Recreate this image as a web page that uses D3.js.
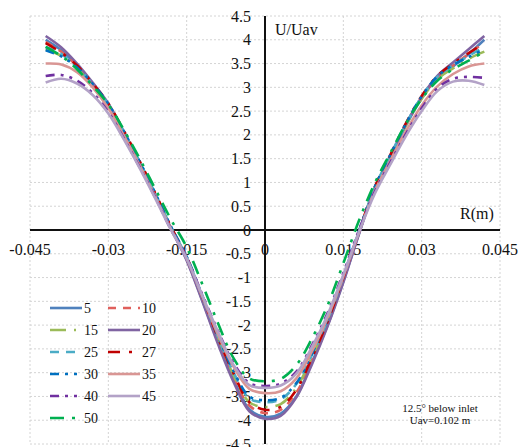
<!DOCTYPE html>
<html>
<head>
<meta charset="utf-8">
<script src="https://cdn.jsdelivr.net/npm/d3@7"></script>
<style>
  body { margin: 0; background: #fff; }
</style>
</head>
<body>
<script>
// radial positions (m)
var radius = [-0.042, -0.039, -0.036, -0.033, -0.030, -0.027, -0.024, -0.021, -0.018, -0.015, -0.012, -0.009, -0.006, -0.003, 0,
              0.003, 0.006, 0.009, 0.012, 0.015, 0.018, 0.021, 0.024, 0.027, 0.030, 0.033, 0.036, 0.039, 0.042];

// U/Uav per series
var s5  = [4.00, 3.78, 3.45, 3.06, 2.63, 2.03, 1.40, 0.73, 0.03, -0.62, -1.48, -2.36, -3.15, -3.77, -3.93, -3.86, -3.50, -2.78, -2.00, -1.08, -0.08, 0.86, 1.53, 2.20, 2.77, 3.20, 3.44, 3.70, 4.00];
var s10 = [3.95, 3.75, 3.45, 3.07, 2.64, 2.05, 1.42, 0.74, 0.05, -0.60, -1.45, -2.32, -3.10, -3.69, -3.85, -3.78, -3.42, -2.74, -1.96, -1.04, -0.05, 0.88, 1.55, 2.22, 2.78, 3.20, 3.46, 3.70, 3.95];
var s15 = [3.80, 3.66, 3.40, 3.04, 2.62, 2.03, 1.40, 0.73, 0.04, -0.60, -1.44, -2.30, -3.06, -3.62, -3.72, -3.66, -3.32, -2.66, -1.90, -1.00, -0.04, 0.87, 1.54, 2.20, 2.76, 3.17, 3.40, 3.60, 3.75];
var s20 = [4.08, 3.84, 3.50, 3.10, 2.66, 2.06, 1.42, 0.74, 0.03, -0.64, -1.50, -2.40, -3.20, -3.81, -3.97, -3.91, -3.52, -2.82, -2.02, -1.10, -0.08, 0.87, 1.55, 2.23, 2.80, 3.24, 3.52, 3.80, 4.08];
var s25 = [3.85, 3.70, 3.43, 3.06, 2.64, 2.06, 1.43, 0.76, 0.06, -0.57, -1.40, -2.24, -3.00, -3.54, -3.62, -3.56, -3.24, -2.62, -1.88, -0.98, -0.03, 0.89, 1.57, 2.23, 2.80, 3.22, 3.46, 3.66, 3.85];
var s27 = [3.93, 3.73, 3.46, 3.08, 2.66, 2.08, 1.45, 0.77, 0.07, -0.57, -1.40, -2.26, -3.02, -3.62, -3.78, -3.72, -3.36, -2.68, -1.92, -1.00, -0.03, 0.90, 1.58, 2.25, 2.82, 3.24, 3.50, 3.72, 3.93];
var s30 = [3.78, 3.65, 3.42, 3.07, 2.65, 2.07, 1.44, 0.77, 0.07, -0.56, -1.38, -2.22, -2.97, -3.50, -3.58, -3.53, -3.22, -2.60, -1.86, -0.97, -0.02, 0.90, 1.58, 2.24, 2.81, 3.23, 3.47, 3.64, 3.80];
var s35 = [3.50, 3.48, 3.32, 3.00, 2.56, 1.98, 1.36, 0.70, 0.02, -0.60, -1.40, -2.20, -2.88, -3.34, -3.43, -3.39, -3.12, -2.55, -1.84, -0.98, -0.05, 0.82, 1.46, 2.08, 2.62, 3.02, 3.28, 3.44, 3.50];
var s40 = [3.24, 3.26, 3.14, 2.88, 2.48, 1.92, 1.32, 0.68, 0.01, -0.58, -1.36, -2.12, -2.80, -3.22, -3.28, -3.23, -2.98, -2.42, -1.74, -0.90, 0.00, 0.80, 1.42, 2.02, 2.56, 2.98, 3.18, 3.22, 3.20];
var s45 = [3.10, 3.18, 3.08, 2.84, 2.45, 1.90, 1.30, 0.66, 0.00, -0.60, -1.38, -2.14, -2.84, -3.26, -3.32, -3.27, -3.02, -2.46, -1.78, -0.94, -0.04, 0.76, 1.38, 1.98, 2.50, 2.92, 3.12, 3.14, 3.05];
var s50 = [3.85, 3.66, 3.38, 3.03, 2.64, 2.10, 1.50, 0.86, 0.22, -0.36, -1.14, -1.96, -2.70, -3.12, -3.18, -3.13, -2.84, -2.28, -1.58, -0.70, 0.20, 0.98, 1.62, 2.24, 2.76, 3.14, 3.38, 3.56, 3.75];

var names  = ["5", "10", "15", "20", "25", "27", "30", "35", "40", "45", "50"];
var values = [s5, s10, s15, s20, s25, s27, s30, s35, s40, s45, s50];
var colors = ["#4F81BD", "#E0605C", "#9BBB59", "#8064A2", "#4BACC6", "#C00000", "#0070C0", "#D99694", "#7030A0", "#B3A2C7", "#00B050"];
var dashes = [null, "8,7", "16,8,2,8", null, "9,7", "12,9,3,9", "9,6,3,6,3,6", null, "9,6,3,6,3,6", null, "14,8,3,8"];

var xTicks = [-0.045, -0.03, -0.015, 0, 0.015, 0.03, 0.045];
var yTicks = [-4.5, -4, -3.5, -3, -2.5, -2, -1.5, -1, -0.5, 0, 0.5, 1, 1.5, 2, 2.5, 3, 3.5, 4, 4.5];

var w = 520, h = 447;

var svg = d3.select("body").append("svg")
  .attr("width", w)
  .attr("height", h)
  .style("font-family", "'Liberation Serif'");

var x = d3.scaleLinear().domain([-0.045, 0.045]).range([30, 500]);
var y = d3.scaleLinear().domain([-4.5, 4.5]).range([444, 16]);

//grid
svg.append("g").selectAll("line.v")
  .data(xTicks).enter().append("line")
  .attr("x1", d => x(d)).attr("x2", d => x(d))
  .attr("y1", y(4.5)).attr("y2", y(-4.5))
  .attr("stroke", "#d4d4d4").attr("stroke-dasharray", "2,2");

svg.append("g").selectAll("line.h")
  .data(yTicks).enter().append("line")
  .attr("x1", x(-0.045)).attr("x2", x(0.045))
  .attr("y1", d => y(d)).attr("y2", d => y(d))
  .attr("stroke", "#d4d4d4").attr("stroke-dasharray", "2,2");

//axes
svg.append("line")
  .attr("x1", x(-0.045)).attr("x2", x(0.045))
  .attr("y1", y(0)).attr("y2", y(0))
  .attr("stroke", "#111").attr("stroke-width", 2);
svg.append("line")
  .attr("x1", x(0)).attr("x2", x(0))
  .attr("y1", y(4.5)).attr("y2", y(-4.5))
  .attr("stroke", "#111").attr("stroke-width", 2);

svg.append("g").selectAll("text")
  .data(yTicks).enter().append("text")
  .attr("x", x(0) - 14)
  .attr("y", d => y(d))
  .attr("dy", "0.35em")
  .attr("text-anchor", "end")
  .attr("fill", "#111")
  .style("font-size", "16px")
  .text(d => d);

svg.append("g").selectAll("text")
  .data(xTicks).enter().append("text")
  .attr("x", d => x(d))
  .attr("y", y(0) + 25)
  .attr("text-anchor", "middle")
  .attr("fill", "#111")
  .style("font-size", "16px")
  .text(d => d);

svg.append("text").attr("x", 275).attr("y", 35).attr("fill", "#111").style("font-size", "16px").text("U/Uav");
svg.append("text").attr("x", 460).attr("y", 219).attr("fill", "#111").style("font-size", "16px").text("R(m)");

//curves
var line = d3.line()
  .x((d, i) => x(radius[i]))
  .y(d => y(d))
  .curve(d3.curveCatmullRom);

svg.append("g").selectAll("path")
  .data(values).enter().append("path")
  .attr("d", line)
  .attr("fill", "none")
  .attr("stroke", (d, i) => colors[i])
  .attr("stroke-width", 2.6)
  .attr("stroke-dasharray", (d, i) => dashes[i]);

//legend
var leg = svg.append("g").selectAll("g")
  .data(names).enter().append("g")
  .attr("transform", (d, i) => "translate(" + (i % 2 ? 108 : 50) + "," + (308 + Math.floor(i / 2) * 22) + ")");

leg.append("line")
  .attr("x1", 0).attr("x2", 32)
  .attr("stroke", (d, i) => colors[i])
  .attr("stroke-width", 2.6)
  .attr("stroke-dasharray", (d, i) => dashes[i]);

leg.append("text")
  .attr("x", 34).attr("y", 5)
  .attr("fill", "#111")
  .style("font-size", "14px")
  .text(d => d);

//note
svg.append("text").attr("x", 440).attr("y", 412).attr("text-anchor", "middle")
  .attr("fill", "#111").style("font-size", "11px").text("12.5° below inlet");
svg.append("text").attr("x", 440).attr("y", 424).attr("text-anchor", "middle")
  .attr("fill", "#111").style("font-size", "11px").text("Uav=0.102 m");
</script>
</body>
</html>
